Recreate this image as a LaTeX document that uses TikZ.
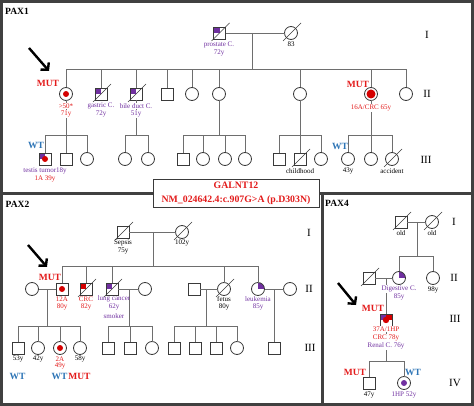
\documentclass[tikz,border=0pt]{standalone}
\usepackage{fontspec}
\setmainfont{Liberation Serif}
\usetikzlibrary{arrows.meta,calc}
\definecolor{purp}{HTML}{7030A0}
\definecolor{mred}{HTML}{E31B1B}
\definecolor{fred}{HTML}{D40000}
\definecolor{wtblue}{HTML}{2E75B6}
\definecolor{lgray}{HTML}{6E6E6E}
\definecolor{sgray}{HTML}{3A3A3A}
\definecolor{frcol}{HTML}{404040}
\tikzset{
  person/.style={draw=sgray, line width=0.8pt, fill=white, inner sep=0pt, outer sep=0pt},
  male/.style={person, rectangle, minimum size=12pt},
  female/.style={person, circle, minimum size=13pt},
  slashln/.style={draw=sgray, line width=0.7pt},
  dead/.style={append after command={($(\tikzlastnode.center)+(-8,8)$) edge[slashln] ($(\tikzlastnode.center)+(10,-10)$)}},
  ulq/.style={path picture={\fill[#1] (path picture bounding box.center) rectangle (path picture bounding box.north west);}},
  urq/.style={path picture={\fill[#1] (path picture bounding box.center) rectangle (path picture bounding box.north east);}},
  dotp/.style 2 args={path picture={\fill[#1] (path picture bounding box.center) circle (#2);}},
  ulqdot/.style={path picture={\fill[purp] (path picture bounding box.center) rectangle (path picture bounding box.north west); \fill[fred] (path picture bounding box.center) circle (3pt);}},
  mixq/.style={path picture={\fill[purp] (path picture bounding box.center) rectangle (path picture bounding box.north west); \fill[fred] (path picture bounding box.center) rectangle (path picture bounding box.north east); \fill[fred] (path picture bounding box.center) circle (3.2pt);}},
  conn/.style={draw=lgray, line width=0.9pt},
  lbl/.style={font=\fontsize{7}{8}\selectfont, inner sep=0pt, text=black},
  lblp/.style={lbl, text=purp},
  lblr/.style={lbl, text=mred},
  onln/.style={fill=white, inner sep=0.6pt},
  mut/.style={font=\fontsize{9.5}{10}\selectfont\bfseries, text=mred, inner sep=0pt},
  wt/.style={font=\fontsize{9.5}{10}\selectfont\bfseries, text=wtblue, inner sep=0pt},
  gen/.style={font=\fontsize{11}{12}\selectfont, inner sep=0pt},
  pax/.style={font=\fontsize{9.5}{10}\selectfont\bfseries, inner sep=0pt},
  parrow/.style={line width=2.4pt, -{Straight Barb[length=5pt,width=11pt]}},
  pframe/.style={draw=frcol, line width=3pt},
  galbox/.style={draw=sgray, line width=0.8pt, fill=white, minimum width=166pt, minimum height=28pt, align=center, text=mred, font=\fontsize{9.8}{14}\selectfont\bfseries, inner sep=0pt},
}
\begin{document}
\begin{tikzpicture}[x=1pt,y=-1pt]
\useasboundingbox (0,0) rectangle (474,406);
% ---------- panel frames ----------
\draw[pframe] (1.5,1.5) rectangle (472.5,404.5);
\draw[pframe] (0,194) -- (474,194);
\draw[pframe] (322,194) -- (322,406);
\node[galbox] (gal) at (236,193) {GALNT12\\NM\_024642.4:c.907G>A (p.D303N)};

% ================= PAX1 =================
\node[pax] (pax1) at (17,11) {PAX1};
\node[gen] (g1i) at (427,35) {I};
\node[gen] (g1ii) at (427,94) {II};
\node[gen] (g1iii) at (426,160) {III};
% gen I
\node[male, dead, ulq=purp] (p1gf) at (219.5,33) {};
\node[female, dead] (p1gm) at (291,33) {};
\coordinate (p1m) at (252,33);
\coordinate (p1s) at (252,69);
% gen II
\node[female, dotp={fred}{3pt}] (p1a) at (66,94) {};
\node[male, dead, ulq=purp] (p1b) at (101,94) {};
\node[male, dead, ulq=purp] (p1c) at (136,94) {};
\node[male] (p1d) at (167,94) {};
\node[female] (p1e) at (192,94) {};
\node[female] (p1f) at (219,94) {};
\node[female] (p1g) at (300,94) {};
\node[female, dotp={fred}{4.5pt}] (p1h) at (371,94) {};
\node[female] (p1i) at (406,94) {};
% gen III
\coordinate (p1as) at (66,135);
\node[male, ulqdot] (p1a1) at (45,159) {};
\node[male] (p1a2) at (66,159) {};
\node[female] (p1a3) at (87,159) {};
\coordinate (p1cs) at (136,135);
\node[female] (p1c1) at (125,159) {};
\node[female] (p1c2) at (148,159) {};
\coordinate (p1fs) at (219,135);
\node[male] (p1f1) at (183,159) {};
\node[female] (p1f2) at (203,159) {};
\node[female] (p1f3) at (225,159) {};
\node[female] (p1f4) at (245,159) {};
\coordinate (p1gs) at (300,135);
\node[male] (p1g1) at (279,159) {};
\node[male, dead] (p1g2) at (300,159) {};
\node[female] (p1g3) at (321,159) {};
\coordinate (p1hs) at (371,135);
\node[female] (p1h1) at (348,159) {};
\node[female] (p1h2) at (371,159) {};
\node[female, dead] (p1h3) at (392,159) {};
% connectors
\draw[conn] (p1gf) -- (p1gm);
\draw[conn] (p1m) -- (p1s);
\foreach \c in {p1a,p1b,p1c,p1d,p1e,p1f,p1g,p1h,p1i} \draw[conn] (\c.north) |- (p1s);
\draw[conn] (p1a.south) -- (p1as);
\foreach \c in {p1a1,p1a2,p1a3} \draw[conn] (\c.north) |- (p1as);
\draw[conn] (p1c.south) -- (p1cs);
\foreach \c in {p1c1,p1c2} \draw[conn] (\c.north) |- (p1cs);
\draw[conn] (p1f.south) -- (p1fs);
\foreach \c in {p1f1,p1f2,p1f3,p1f4} \draw[conn] (\c.north) |- (p1fs);
\draw[conn] (p1g.south) -- (p1gs);
\foreach \c in {p1g1,p1g2,p1g3} \draw[conn] (\c.north) |- (p1gs);
\draw[conn] (p1h.south) -- (p1hs);
\foreach \c in {p1h1,p1h2,p1h3} \draw[conn] (\c.north) |- (p1hs);
% labels
\node[lblp] (t101) at (219,45) {prostate C.};
\node[lblp] (t102) at (219,53) {72y};
\node[lbl] (t103) at (291,44) {83};
\node[mut] (t104) at (48,83) {MUT};
\node[lblr, onln] (t105) at (66,106) {>50*};
\node[lblr, onln] (t106) at (66,114) {71y};
\node[lblp] (t107) at (101,106) {gastric C.};
\node[lblp] (t108) at (101,114) {72y};
\node[lblp, onln] (t109) at (136,106) {bile duct C.};
\node[lblp, onln] (t110) at (136,114) {51y};
\node[mut] (t111) at (358,84) {MUT};
\node[lblr, onln] (t112) at (371,108) {16A/CRC 65y};
\node[wt] (t113) at (36,145) {WT};
\node[lblp] (t114) at (45,171) {testis tumor18y};
\node[lblr] (t115) at (45,179) {1A 39y};
\node[lbl] (t116) at (300,171) {childhood};
\node[wt] (t117) at (340,146) {WT};
\node[lbl] (t118) at (348,171) {43y};
\node[lbl] (t119) at (392,171) {accident};
\coordinate (a1s) at (29,48);
\coordinate (a1e) at (49,71);
\draw[parrow] (a1s) -- (a1e);

% ================= PAX2 =================
\node[pax] (pax2) at (17.5,204) {PAX2};
\node[gen] (g2i) at (309,233) {I};
\node[gen] (g2ii) at (309,289) {II};
\node[gen] (g2iii) at (310,348) {III};
% gen I
\node[male, dead] (p2gf) at (123,232) {};
\node[female, dead] (p2gm) at (182,232) {};
\coordinate (p2m) at (153,232);
\coordinate (p2s) at (153,266);
% gen II
\node[female] (p2sp1) at (32,289) {};
\node[male, dotp={fred}{3pt}] (p2a) at (62,289) {};
\node[male, dead, ulq=fred] (p2b) at (86,289) {};
\node[male, dead, ulq=purp] (p2c) at (112,289) {};
\node[female] (p2sp2) at (145,289) {};
\node[male] (p2sp3) at (194,289) {};
\node[female, dead] (p2d) at (224,289) {};
\node[female, urq=purp] (p2e) at (258,289) {};
\node[female] (p2sp4) at (290,289) {};
\coordinate (p2am) at (47,289);
\coordinate (p2as) at (47,326);
\coordinate (p2cm) at (129.5,289);
\coordinate (p2cs) at (129.5,326);
\coordinate (p2dm) at (206,289);
\coordinate (p2ds) at (206,326);
\coordinate (p2em) at (274,289);
% gen III
\node[male] (p2a1) at (18,348) {};
\node[female] (p2a2) at (38,348) {};
\node[female, dotp={fred}{3pt}] (p2a3) at (60,348) {};
\node[female] (p2a4) at (80,348) {};
\node[male] (p2c1) at (108,348) {};
\node[male] (p2c2) at (130,348) {};
\node[female] (p2c3) at (152,348) {};
\node[male] (p2d1) at (174,348) {};
\node[male] (p2d2) at (195,348) {};
\node[male] (p2d3) at (216,348) {};
\node[female] (p2d4) at (237,348) {};
\node[male] (p2e1) at (274,348) {};
% connectors
\draw[conn] (p2gf) -- (p2gm);
\draw[conn] (p2m) -- (p2s);
\foreach \c in {p2a,p2b,p2c,p2d,p2e} \draw[conn] (\c.north) |- (p2s);
\draw[conn] (p2sp1) -- (p2a);
\draw[conn] (p2c) -- (p2sp2);
\draw[conn] (p2sp3) -- (p2d);
\draw[conn] (p2e) -- (p2sp4);
\draw[conn] (p2am) -- (p2as);
\foreach \c in {p2a1,p2a2,p2a3,p2a4} \draw[conn] (\c.north) |- (p2as);
\draw[conn] (p2cm) -- (p2cs);
\foreach \c in {p2c1,p2c2,p2c3} \draw[conn] (\c.north) |- (p2cs);
\draw[conn] (p2dm) -- (p2ds);
\foreach \c in {p2d1,p2d2,p2d3,p2d4} \draw[conn] (\c.north) |- (p2ds);
\draw[conn] (p2em) -- (p2e1.north);
% labels
\node[lbl] (t201) at (123,243) {Sepsis};
\node[lbl] (t202) at (123,251) {75y};
\node[lbl] (t203) at (182,243) {102y};
\node[mut] (t204) at (50,277) {MUT};
\node[lblr] (t205) at (62,299) {12A};
\node[lblr] (t206) at (62,307) {80y};
\node[lblr] (t207) at (86,299) {CRC};
\node[lblr] (t208) at (86,307) {82y};
\node[lblp] (t209) at (114,299) {lung cancer};
\node[lblp] (t210) at (114,307) {62y};
\node[lblp] (t211) at (114,316) {smoker};
\node[lbl] (t212) at (224,299) {fetus};
\node[lbl] (t213) at (224,307) {80y};
\node[lblp] (t214) at (258,299) {leukemia};
\node[lblp] (t215) at (258,307) {85y};
\node[lbl] (t216) at (18,359) {53y};
\node[lbl] (t217) at (38,359) {42y};
\node[lblr] (t218) at (60,359) {2A};
\node[lblr] (t219) at (60,366) {49y};
\node[lbl] (t220) at (80,359) {58y};
\node[wt] (t221) at (17.5,376) {WT};
\node[wt] (t222) at (59.5,376) {WT};
\node[mut] (t223) at (79.5,376) {MUT};
\coordinate (a2s) at (28,245);
\coordinate (a2e) at (47,267);
\draw[parrow] (a2s) -- (a2e);

% ================= PAX4 =================
\node[pax] (pax4) at (337,203) {PAX4};
\node[gen] (g4i) at (454,222) {I};
\node[gen] (g4ii) at (454,278) {II};
\node[gen] (g4iii) at (455,319) {III};
\node[gen] (g4iv) at (455,383) {IV};
% gen I
\node[male, dead] (p4gf) at (401,222) {};
\node[female, dead] (p4gm) at (432,222) {};
\coordinate (p4m) at (417,222);
\coordinate (p4s) at (417,256);
% gen II
\node[male, dead] (p4sp) at (369,278) {};
\node[female, urq=purp] (p4a) at (399,278) {};
\node[female] (p4b) at (433,278) {};
\coordinate (p4am) at (386,278);
% gen III
\node[male, mixq] (p4c) at (386,320) {};
\coordinate (p4cs) at (386,361);
% gen IV
\node[male] (p4c1) at (369,383) {};
\node[female, dotp={purp}{3pt}] (p4c2) at (404,383) {};
% connectors
\draw[conn] (p4gf) -- (p4gm);
\draw[conn] (p4m) -- (p4s);
\foreach \c in {p4a,p4b} \draw[conn] (\c.north) |- (p4s);
\draw[conn] (p4sp) -- (p4a);
\draw[conn] (p4am) -- (p4c.north);
\draw[conn] (p4c.south) -- (p4cs);
\foreach \c in {p4c1,p4c2} \draw[conn] (\c.north) |- (p4cs);
% labels
\node[lbl] (t401) at (401,233) {old};
\node[lbl] (t402) at (432,233) {old};
\node[lblp, onln] (t403) at (399,289) {Digestive C.};
\node[lblp] (t404) at (399,297) {85y};
\node[lbl] (t405) at (433,290) {98y};
\node[mut] (t406) at (373,308) {MUT};
\node[lblr, onln] (t407) at (386,329) {37A/1HP};
\node[lblr, onln] (t408) at (386,338) {CRC 78y};
\node[lblp, onln] (t409) at (386,346) {Renal C. 76y};
\node[mut] (t410) at (355,372) {MUT};
\node[wt] (t411) at (413,372) {WT};
\node[lbl] (t412) at (369,395) {47y};
\node[lblp] (t413) at (404,395) {1HP 52y};
\coordinate (a4s) at (338,283);
\coordinate (a4e) at (356,305);
\draw[parrow] (a4s) -- (a4e);
\end{tikzpicture}
\end{document}
